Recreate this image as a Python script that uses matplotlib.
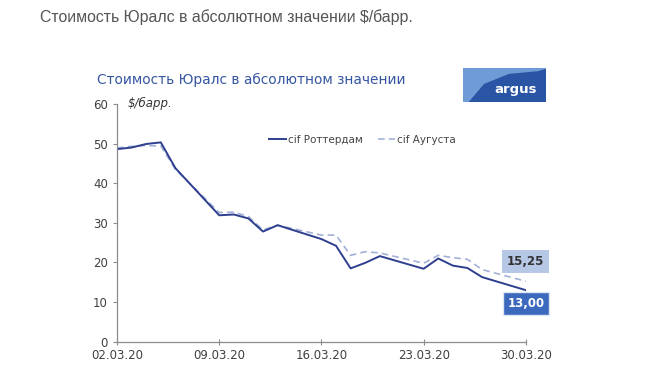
import pandas as pd
import matplotlib
matplotlib.use("Agg")
import matplotlib.pyplot as plt
import matplotlib.dates as mdates
from matplotlib.patches import Rectangle, Polygon

# trading days, March 2020
dates = pd.to_datetime([
    "2020-03-02", "2020-03-03", "2020-03-04", "2020-03-05", "2020-03-06",
    "2020-03-09", "2020-03-10", "2020-03-11", "2020-03-12", "2020-03-13",
    "2020-03-16", "2020-03-17", "2020-03-18", "2020-03-19", "2020-03-20",
    "2020-03-23", "2020-03-24", "2020-03-25", "2020-03-26", "2020-03-27",
    "2020-03-30"])
rotterdam = [48.6, 49.0, 49.9, 50.3, 43.8,
             31.9, 32.1, 31.1, 27.8, 29.4,
             25.9, 24.2, 18.5, 19.9, 21.6,
             18.4, 21.0, 19.2, 18.6, 16.3,
             13.00]
augusta = [48.9, 49.3, 49.5, 49.4, 43.5,
           32.6, 32.7, 31.6, 28.2, 29.4,
           26.9, 26.9, 21.8, 22.7, 22.4,
           19.8, 21.8, 21.2, 20.8, 18.2,
           15.25]
yticks = [0, 10, 20, 30, 40, 50, 60]
xticks = pd.to_datetime(["2020-03-02", "2020-03-09", "2020-03-16",
                         "2020-03-23", "2020-03-30"])

navy = "#2e3f8f"
light = "#a3b1d8"
axis_grey = "#8c8c8c"
txt = "#404040"

fig = plt.figure(figsize=(6.5, 3.85), dpi=100)
fig.patch.set_facecolor("white")

fig.text(0.062, 0.955, "Стоимость Юралс в абсолютном значении $/барр.",
         fontsize=11.4, color="#555555", family="Liberation Sans", va="center")
fig.text(0.149, 0.793, "Стоимость Юралс в абсолютном значении",
         fontsize=9.9, color="#3556a0", family="DejaVu Sans", va="center")

# argus logo
logo = fig.add_axes([0.712, 0.735, 0.128, 0.088])
logo.set_xlim(0, 1)
logo.set_ylim(0, 1)
logo.axis("off")
logo.add_patch(Rectangle((0, 0), 1, 1, color="#2a55a5"))
logo.add_patch(Polygon([(0, 0), (0, 1), (1, 1), (0.9, 0.93), (0.55, 0.85),
                        (0.25, 0.55), (0.06, 0.0)], color="#6f9bd6"))
logo.text(0.63, 0.38, "argus", color="white", fontsize=9.5, weight="bold",
          ha="center", va="center")

ax = fig.add_axes([0.18, 0.1125, 0.629, 0.6175])
ax.plot(dates, augusta, color=light, lw=1.2, ls=(0, (4, 2.5)), label="cif Аугуста")
ax.plot(dates, rotterdam, color=navy, lw=1.4, label="cif Роттердам")

ax.set_xlim(xticks[0], xticks[-1])
ax.set_ylim(0, 60)
ax.set_yticks(yticks)
ax.set_xticks(xticks)
ax.xaxis.set_major_formatter(mdates.DateFormatter("%d.%m.%y"))
for s in ["top", "right"]:
    ax.spines[s].set_visible(False)
for s in ["left", "bottom"]:
    ax.spines[s].set_color(axis_grey)
    ax.spines[s].set_linewidth(0.9)
ax.tick_params(colors=axis_grey, labelcolor=txt, labelsize=8.5, length=3)
ax.tick_params(axis="x", direction="inout", length=4)

ax.text(0.025, 1.0, "$/барр.", transform=ax.transAxes, fontsize=8.5,
        style="italic", color="#333333", va="center")

h, l = ax.get_legend_handles_labels()
ax.legend(h[::-1], l[::-1], loc="upper center", bbox_to_anchor=(0.6, 0.91),
          ncol=2, frameon=False, fontsize=7.5, handlelength=1.6,
          handletextpad=0.2, columnspacing=1.5, labelcolor="#444444")

ax.annotate("15,25", xy=(1.0, 0), xycoords="axes fraction",
            xytext=(dates[-1], augusta[-1] + 5), textcoords="data",
            ha="center", va="center", fontsize=8.5, color="#333333",
            weight="bold", annotation_clip=False,
            bbox=dict(boxstyle="square,pad=0.4", fc="#b7c7e6", ec="none"))
ax.annotate("13,00", xy=(1.0, 0), xycoords="axes fraction",
            xytext=(dates[-1], rotterdam[-1] - 3.4), textcoords="data",
            ha="center", va="center", fontsize=8.5, color="white",
            weight="bold", annotation_clip=False,
            bbox=dict(boxstyle="square,pad=0.4", fc="#3c68bd", ec="#dfe7f5"))

fig.savefig("out.png", dpi=100)
